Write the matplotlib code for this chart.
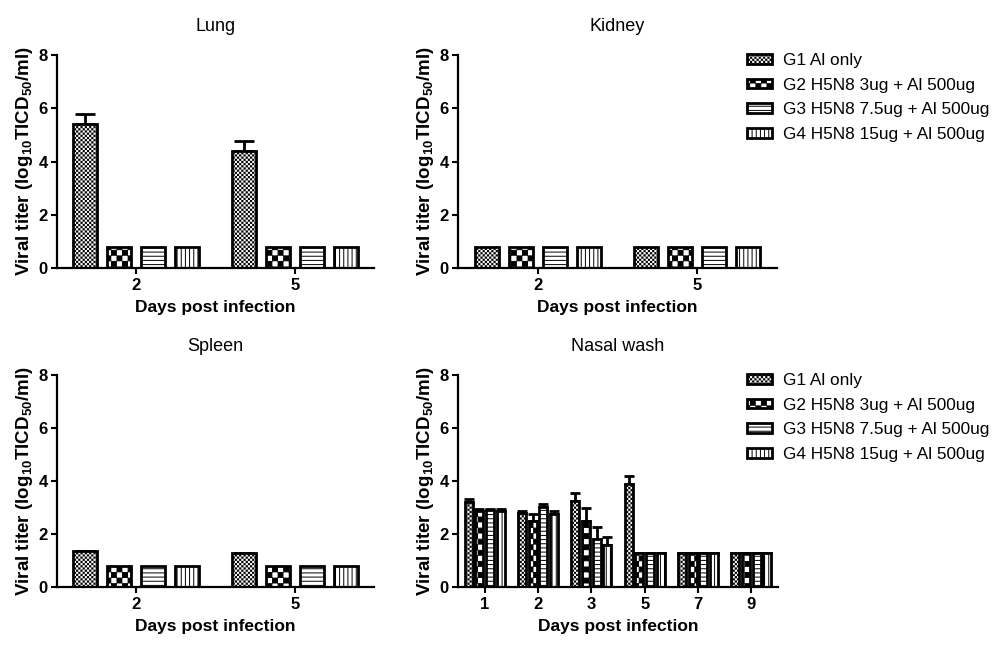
import numpy as np
import matplotlib
matplotlib.use("Agg")
import matplotlib.pyplot as plt
import matplotlib.hatch as mhatch
from matplotlib.path import Path
from matplotlib.patches import Patch

# ---------------- data ----------------
groups = ["G1 Al only", "G2 H5N8 3ug + Al 500ug",
          "G3 H5N8 7.5ug + Al 500ug", "G4 H5N8 15ug + Al 500ug"]

organ_days = ["2", "5"]
lung_vals = [[5.4, 4.4], [0.8, 0.8], [0.8, 0.8], [0.8, 0.8]]
lung_err = [[0.38, 0.38], [0, 0], [0, 0], [0, 0]]
kidney_vals = [[0.8, 0.8], [0.8, 0.8], [0.8, 0.8], [0.8, 0.8]]
kidney_err = [[0, 0], [0, 0], [0, 0], [0, 0]]
spleen_vals = [[1.35, 1.3], [0.8, 0.8], [0.8, 0.8], [0.8, 0.8]]
spleen_err = [[0.02, 0], [0, 0], [0, 0], [0, 0]]

nasal_days = ["1", "2", "3", "5", "7", "9"]
nasal_vals = [[3.2, 2.8, 3.25, 3.9, 1.3, 1.3],
              [2.88, 2.5, 2.5, 1.3, 1.3, 1.3],
              [2.9, 3.02, 1.8, 1.3, 1.3, 1.3],
              [2.88, 2.75, 1.6, 1.3, 1.3, 1.3]]
nasal_err = [[0.12, 0.05, 0.3, 0.3, 0, 0],
             [0.08, 0.25, 0.48, 0, 0, 0],
             [0.06, 0.1, 0.45, 0, 0, 0],
             [0.05, 0.12, 0.3, 0, 0, 0]]

# ---------------- custom checker hatches ----------------
class _Checker(mhatch.HatchPatternBase):
    char = "*"
    cells = 48
    inset = 0.0

    def __init__(self, hatch, density):
        c = hatch.count(self.char)
        self.n = self.cells * c
        self.num_vertices = 5 * ((self.n * self.n + 1) // 2) if self.n else 0

    def set_vertices_and_codes(self, vertices, codes):
        n = self.n
        s = 1.0 / n
        d = s * self.inset
        k = 0
        for i in range(n):
            for j in range(n):
                if (i + j) % 2 == 0:
                    x0, y0 = i * s + d / 2, j * s + d / 2
                    w = s - d
                    vertices[k:k + 5] = [(x0, y0), (x0 + w, y0), (x0 + w, y0 + w),
                                         (x0, y0 + w), (x0, y0)]
                    codes[k:k + 5] = [Path.MOVETO, Path.LINETO, Path.LINETO,
                                      Path.LINETO, Path.CLOSEPOLY]
                    k += 5


class FineChecker(_Checker):
    char = "*"
    cells = 46
    inset = 0.45


class CoarseChecker(_Checker):
    char = "O"
    cells = 18
    inset = 0.12


new_types = []
for t in mhatch._hatch_types:
    if t is mhatch.Stars:
        new_types.append(FineChecker)
    elif t is mhatch.LargeCircles:
        new_types.append(CoarseChecker)
    else:
        new_types.append(t)
mhatch._hatch_types[:] = new_types

hatches = ["*", "O", "----", "||||"]

# ---------------- style ----------------
plt.rcParams["font.family"] = ["Liberation Sans", "DejaVu Sans"]
plt.rcParams["mathtext.fontset"] = "custom"
plt.rcParams["mathtext.rm"] = "Liberation Sans"
plt.rcParams["mathtext.bf"] = "Liberation Sans:bold"
plt.rcParams["hatch.linewidth"] = 0.7

W, H = 999, 650
fig = plt.figure(figsize=(W / 100, H / 100), dpi=100)


def frac(x0, y_top, x1, y_bot):
    return [x0 / W, 1 - y_bot / H, (x1 - x0) / W, (y_bot - y_top) / H]


ylabel = r"Viral titer (log$_{\mathbf{10}}$TICD$_{\mathbf{50}}$/ml)"


def panel(rect, title, days, vals, errs, pitch, width, capsize):
    ax = fig.add_axes(rect)
    x = np.arange(len(days))
    for g in range(4):
        off = (g - 1.5) * pitch
        ax.bar(x + off, vals[g], width, facecolor="white", edgecolor="black",
               linewidth=2.0, hatch=hatches[g], zorder=2)
        e = np.array(errs[g])
        if np.any(e > 0):
            ax.errorbar(x + off, vals[g], yerr=[np.zeros_like(e), e], fmt="none",
                        ecolor="black", elinewidth=2.0, capsize=capsize,
                        capthick=2.0, zorder=1)
    ax.set_xlim(-0.5, len(days) - 0.5)
    ax.set_ylim(0, 8)
    ax.set_yticks([0, 2, 4, 6, 8])
    ax.set_xticks(x)
    ax.set_xticklabels(days)
    for s in ["top", "right"]:
        ax.spines[s].set_visible(False)
    for s in ["left", "bottom"]:
        ax.spines[s].set_linewidth(1.6)
    ax.tick_params(axis="both", length=4, width=1.5, labelsize=12, pad=2.5)
    ax.tick_params(axis="x", pad=3.5)
    for lab in ax.get_xticklabels() + ax.get_yticklabels():
        lab.set_fontweight("bold")
    ax.set_title(title, fontsize=13, pad=17.5)
    ax.set_xlabel("Days post infection", fontsize=12.5, fontweight="bold", labelpad=5)
    ax.set_ylabel(ylabel, fontsize=13.5, fontweight="bold", labelpad=3)
    return ax


ax1 = panel(frac(57, 55, 374, 268), "Lung", organ_days, lung_vals, lung_err,
            0.214, 0.15, 7)
ax2 = panel(frac(458, 55, 777, 268), "Kidney", organ_days, kidney_vals, kidney_err,
            0.214, 0.15, 7)
ax3 = panel(frac(57, 375, 374, 587), "Spleen", organ_days, spleen_vals, spleen_err,
            0.214, 0.15, 7)
ax4 = panel(frac(458, 375, 778, 587), "Nasal wash", nasal_days, nasal_vals, nasal_err,
            0.198, 0.15, 3.5)


def add_legend(ax, top_px):
    handles = [Patch(facecolor="white", edgecolor="black", linewidth=2.0,
                     hatch=hatches[g], label=groups[g]) for g in range(4)]
    ax.legend(handles=handles, loc="upper left",
              bbox_to_anchor=(747 / W, 1 - top_px / H),
              bbox_transform=fig.transFigure, frameon=False, fontsize=12.4,
              handlelength=1.45, handleheight=0.5, handletextpad=0.62,
              labelspacing=0.56, borderpad=0, borderaxespad=0)


add_legend(ax2, 53)
add_legend(ax4, 373)

fig.savefig("out.png", dpi=100)
